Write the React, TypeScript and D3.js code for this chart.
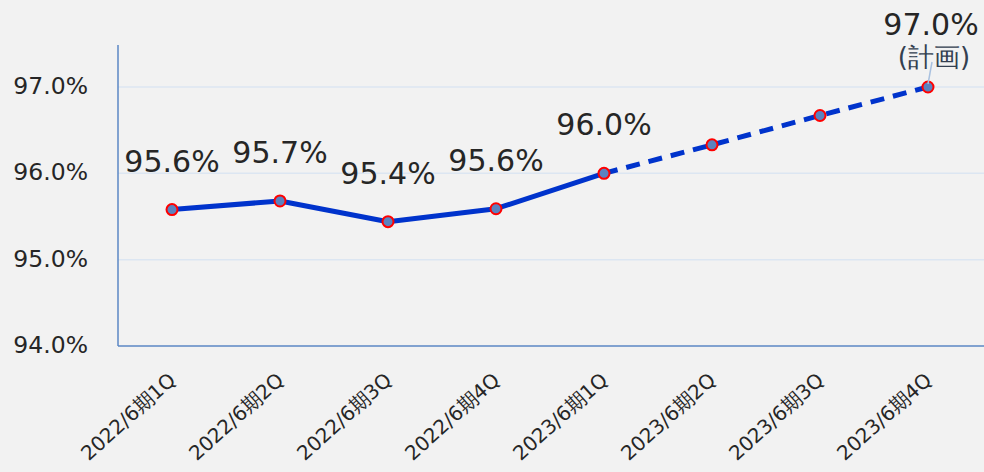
import React from "react";
import * as d3 from "d3";

const categories = ["2022/6期1Q", "2022/6期2Q", "2022/6期3Q", "2022/6期4Q", "2023/6期1Q", "2023/6期2Q", "2023/6期3Q", "2023/6期4Q"];
const values = [95.58, 95.68, 95.44, 95.59, 96.0, 96.33, 96.67, 97.0];
const valueLabels = ["95.6%", "95.7%", "95.4%", "95.6%", "96.0%", "", "", "97.0%"];
const yTicks = [94, 95, 96, 97];
const actualCount = 5; // first 5 are actual, rest planned
const planNote = "(計画)";

const W = 984, H = 472;
const left = 118, right = 982, top = 45, bottom = 346;

export default function App() {
  const x = d3.scaleBand<string>().domain(categories).range([left, right]);
  const y = d3.scaleLinear().domain([94, 97]).range([bottom, 87]);
  const cx = (i: number) => (x(categories[i]) as number) + x.bandwidth() / 2;
  const pts = values.map((v, i) => [cx(i), y(v)] as [number, number]);
  const gen = d3.line();
  const solid = gen(pts.slice(0, actualCount)) || "";
  const dashed = gen(pts.slice(actualCount - 1)) || "";
  const font = "'DejaVu Sans', Verdana, sans-serif";
  const last = pts[pts.length - 1];
  return (
    <svg width={W} height={H} style={{ position: "absolute", left: 0, top: 0, background: "#f2f2f2" }}>
      <rect x={0} y={0} width={W} height={H} fill="#f2f2f2" />
      {yTicks.slice(1).map(t => (
        <line key={t} x1={left} x2={right + 2} y1={y(t)} y2={y(t)} stroke="#dce6f2" strokeWidth={1.5} />
      ))}
      <line x1={left} x2={left} y1={top} y2={bottom} stroke="#5b87c5" strokeWidth={1.5} />
      <line x1={left} x2={W} y1={bottom} y2={bottom} stroke="#5b87c5" strokeWidth={1.5} />
      {yTicks.map(t => (
        <text key={t} x={88} y={y(t) + 7} textAnchor="end" fontFamily={font} fontSize={23.5} fill="#262626">
          {t.toFixed(1)}%
        </text>
      ))}
      {categories.map((c, i) => (
        <text key={c} transform={`translate(${cx(i) + 5},${382}) rotate(-42)`} textAnchor="end" fontFamily={font} fontSize={20} fill="#262626">
          {c}
        </text>
      ))}
      <path d={solid} fill="none" stroke="#0033cc" strokeWidth={5} strokeLinejoin="round" />
      <path d={dashed} fill="none" stroke="#0033cc" strokeWidth={5} strokeDasharray="14 9" />
      {pts.map((p, i) => (
        <circle key={i} cx={p[0]} cy={p[1]} r={5.5} fill="#5b82bf" stroke="#ff0000" strokeWidth={2} />
      ))}
      {valueLabels.map((l, i) => l && i < values.length - 1 ? (
        <text key={i} x={pts[i][0]} y={pts[i][1] - 38} textAnchor="middle" fontFamily={font} fontSize={30} fill="#262626">{l}</text>
      ) : null)}
      <line x1={last[0] + 4} y1={62} x2={last[0]} y2={last[1] - 3} stroke="#a9c1e0" strokeWidth={1.5} />
      <text x={last[0] + 3} y={35} textAnchor="middle" fontFamily={font} fontSize={30} fill="#262626">{valueLabels[values.length - 1]}</text>
      <text x={last[0] + 6} y={66} textAnchor="middle" fontFamily={font} fontSize={26} fill="#333f50">{planNote}</text>
    </svg>
  );
}
